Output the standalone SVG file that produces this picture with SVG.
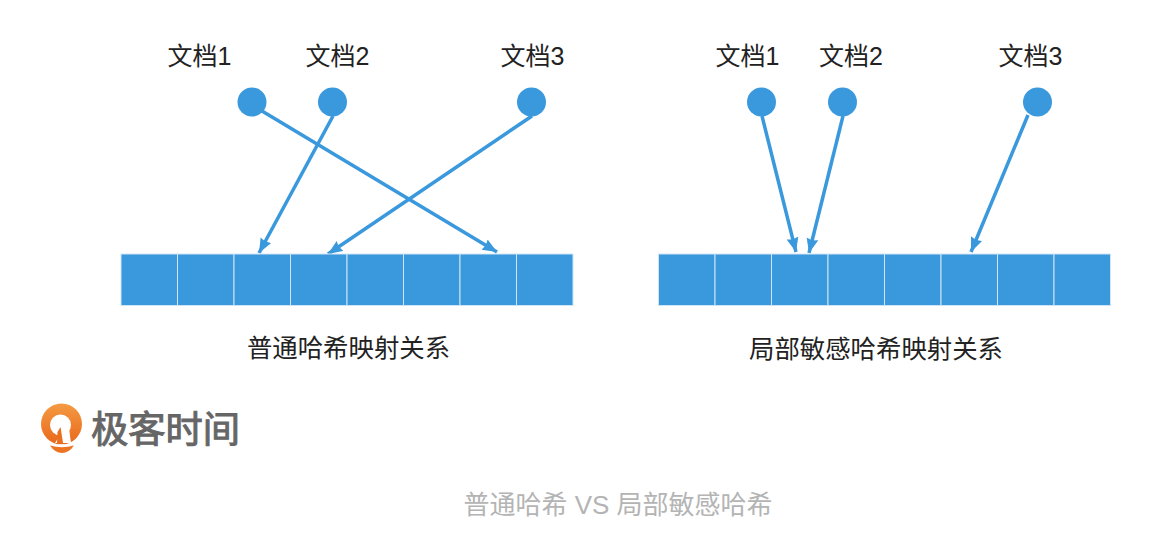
<svg xmlns="http://www.w3.org/2000/svg" width="1164" height="542" viewBox="0 0 1164 542">
<defs>
<marker id="arr" markerUnits="userSpaceOnUse" markerWidth="16" markerHeight="14" refX="14.500" refY="6.500" orient="auto"><path d="M0 0.500L14.500 6.500L0 12.500L1.500 6.500Z" fill="#3a98dd"/></marker>
<linearGradient id="og" x1="0" y1="0" x2="0" y2="1"><stop offset="0" stop-color="#f49a42"/><stop offset="1" stop-color="#e9681c"/></linearGradient>
</defs>
<style>
text{font-family:"Liberation Sans","Noto Sans CJK SC",sans-serif}
.t{font-size:25px;fill:#222;text-anchor:middle}
.dot{fill:#3a98dd}
.cell{fill:#3a98dd;stroke:#cfe5f6;stroke-width:1}
.c{fill:none;stroke:#3a98dd;stroke-width:3.500;marker-end:url(#arr)}
</style>
<rect width="1164" height="542" fill="#fff"/>
<g id="connectors">
<path class="c" d="M262 111L497 252"/>
<path class="c" d="M333 116L259 253"/>
<path class="c" d="M532 116L328 254"/>
<path class="c" d="M762 116L796 252"/>
<path class="c" d="M843 116L809 253"/>
<path class="c" d="M1028 115L971 252"/>
</g>
<g id="node-l1"><text class="t" x="199.500" y="65">文档1</text><circle class="dot" cx="252" cy="102" r="14.500"/></g>
<g id="node-l2"><text class="t" x="337.500" y="65">文档2</text><circle class="dot" cx="332.500" cy="102" r="14.500"/></g>
<g id="node-l3"><text class="t" x="532.500" y="65">文档3</text><circle class="dot" cx="531.500" cy="102" r="14.500"/></g>
<g id="node-r1"><text class="t" x="747.500" y="65">文档1</text><circle class="dot" cx="761.500" cy="102" r="14.500"/></g>
<g id="node-r2"><text class="t" x="851" y="65">文档2</text><circle class="dot" cx="842.500" cy="102" r="14.500"/></g>
<g id="node-r3"><text class="t" x="1030.500" y="65">文档3</text><circle class="dot" cx="1037.500" cy="102" r="14.500"/></g>
<g id="bar-left">
<rect class="cell" x="121" y="254" width="56.500" height="51.500"/><rect class="cell" x="177.500" y="254" width="56.500" height="51.500"/><rect class="cell" x="234" y="254" width="56.500" height="51.500"/><rect class="cell" x="290.500" y="254" width="56.500" height="51.500"/><rect class="cell" x="347" y="254" width="56.500" height="51.500"/><rect class="cell" x="403.500" y="254" width="56.500" height="51.500"/><rect class="cell" x="460" y="254" width="56.500" height="51.500"/><rect class="cell" x="516.500" y="254" width="56.500" height="51.500"/>
</g>
<g id="bar-right">
<rect class="cell" x="658.500" y="254" width="56.500" height="51.500"/><rect class="cell" x="715" y="254" width="56.500" height="51.500"/><rect class="cell" x="771.500" y="254" width="56.500" height="51.500"/><rect class="cell" x="828" y="254" width="56.500" height="51.500"/><rect class="cell" x="884.500" y="254" width="56.500" height="51.500"/><rect class="cell" x="941" y="254" width="56.500" height="51.500"/><rect class="cell" x="997.500" y="254" width="56.500" height="51.500"/><rect class="cell" x="1054" y="254" width="56.500" height="51.500"/>
</g>
<text class="t" x="348.500" y="357" style="font-size:25.400px">普通哈希映射关系</text>
<text class="t" x="876" y="358" style="font-size:25.400px">局部敏感哈希映射关系</text>
<g id="logo">
<circle cx="61.500" cy="424" r="20.500" fill="url(#og)"/>
<circle cx="60.500" cy="425" r="10.500" fill="#fff"/>
<path d="M63 430L69 428L71 443H55Z" fill="#fff"/>
<path d="M60.500 427L63 443H57L57.500 432Z" fill="#ea701f"/>
<path d="M48 442.500Q62 447 75 442.500V444H48Z" fill="#fff"/>
<path d="M50 445.500Q62 449 74 445.500Q69 453 62 453Q55 453 50 445.500Z" fill="#ec7423"/>
<text x="91" y="443" font-size="37" font-weight="400" fill="#666" stroke="#666" stroke-width="1" textLength="149" lengthAdjust="spacingAndGlyphs">极客时间</text>
</g>
<text x="618" y="514" font-size="26" fill="#b4b4b4" text-anchor="middle">普通哈希 VS 局部敏感哈希</text>
</svg>
